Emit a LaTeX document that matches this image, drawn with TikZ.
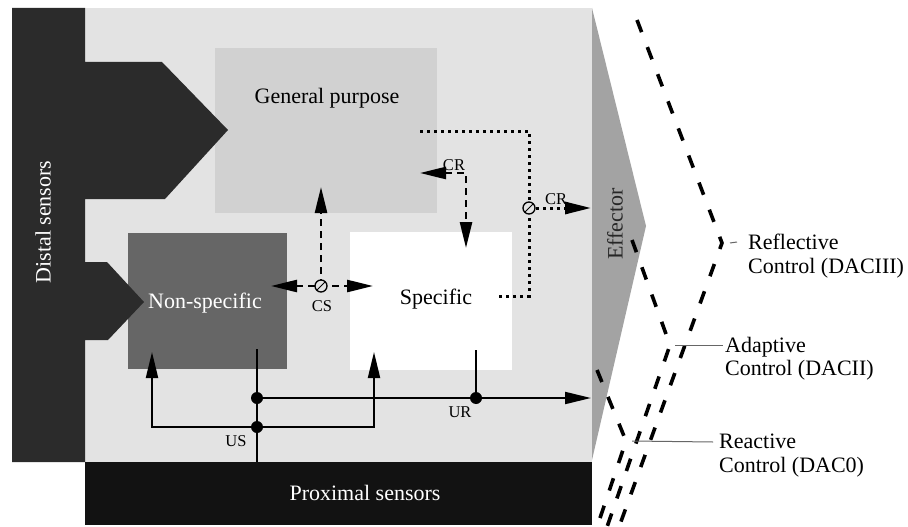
\documentclass[tikz,border=0pt]{standalone}
\usepackage{fontspec}
\setmainfont{Liberation Serif}
\usetikzlibrary{arrows.meta}
\definecolor{bglight}{gray}{0.89}
\definecolor{gpgray}{gray}{0.82}
\definecolor{nsgray}{gray}{0.40}
\definecolor{distal}{gray}{0.17}
\definecolor{proximal}{gray}{0.07}
\definecolor{effgray}{gray}{0.64}
\tikzset{
  big/.style={font=\fontsize{22}{23.5}\selectfont, inner sep=0pt},
  small/.style={font=\fontsize{16.5}{18}\selectfont, inner sep=0pt},
  tip/.style={-{Triangle[length=26pt,width=12pt]}},
  both/.style={{Triangle[length=26pt,width=12pt]}-{Triangle[length=26pt,width=12pt]}},
  sigline/.style={line width=2pt},
  dashline/.style={line width=2.5pt, dash pattern=on 7pt off 5pt},
  dotline/.style={line width=3pt, dash pattern=on 3pt off 4pt},
  junc/.style={circle, draw, line width=1.3pt, fill=bglight, minimum size=12pt, inner sep=0pt,
    path picture={\draw[line width=1pt] (path picture bounding box.south west) -- (path picture bounding box.north east);}},
  knot/.style={circle, fill=black, minimum size=12pt, inner sep=0pt},
  level/.style={line width=3.6pt, dash pattern=on 13pt off 16pt},
  tick/.style={line width=1pt, black!60},
}
\begin{document}
\begin{tikzpicture}[x=1pt, y=-1pt]
\useasboundingbox[fill=white] (0,0) rectangle (908,527);
% blocks
\fill[bglight] (85,8) rectangle (592,462);
\fill[effgray] (592,8) -- (646,226) -- (592,460) -- cycle;
\fill[gpgray] (215,48) rectangle (437,213);
\fill[nsgray] (128,233) rectangle (287,369);
\fill[white] (350,232) rectangle (512,370);
\fill[distal] (12,8) -- (85,8) -- (85,62) -- (162,62) -- (228,130) -- (165,199) -- (85,199)
  -- (85,262) -- (107,262) -- (144,302) -- (108,340) -- (85,340) -- (85,462) -- (12,462) -- cycle;
\fill[proximal] (85,462) rectangle (592,525);
\node[big, rotate=90, text=white] (dist) at (43,222) {Distal sensors};
\node[big, rotate=90, text=black!85] (eff) at (615,224) {Effector};
\node[big] (gp) at (327,98) {General purpose};
\node[big, text=white] (ns) at (205,303) {Non-specific};
\node[big] (sp) at (436,299) {Specific};
\node[big, text=white] (prox) at (365,493) {Proximal sensors};
% CS
\coordinate (csC) at (321,286);
\coordinate (csL) at (271,286);
\coordinate (csR) at (373,286);
\coordinate (csU) at (321,187);
\draw[dashline, both] (csL) -- (csR);
\draw[dashline, tip] (csC) -- (csU);
\node[junc] (cs) at (csC) {};
\node[small] at (322,306) {CS};
% CR
\coordinate (crL) at (420,173);
\coordinate (crD) at (466,248);
\draw[dashline, both] (crL) -| (crD);
\node[small] at (454,165) {CR};
\coordinate (gpOut) at (420,131);
\coordinate (spOut) at (498,296);
\coordinate (crC) at (529,208);
\coordinate (effCR) at (591,208);
\draw[dotline] (gpOut) -| (crC) |- (spOut);
\draw[dotline, tip] (crC) -- (effCR);
\node[junc] (cr) at (crC) {};
\node[small] at (556,199) {CR};
% US / UR
\coordinate (nsIn) at (257,349);
\coordinate (base) at (257,462);
\coordinate (spIn) at (476,350);
\coordinate (effIn) at (591,398);
\coordinate (nsTip) at (152,352);
\coordinate (spTip) at (374,352);
\draw[sigline] (nsIn) -- (base);
\node[knot] (kUp) at (257,398) {};
\node[knot] (kLo) at (257,427) {};
\draw[sigline, tip] (kUp) -- (effIn);
\draw[sigline, tip] (kLo) -| (nsTip);
\draw[sigline, tip] (kLo) -| (spTip);
\draw[sigline] (spIn) -- (476,398);
\node[knot] (kUR) at (476,398) {};
\node[small] at (236,441) {US};
\node[small] at (460,412) {UR};
% levels
\coordinate (vRef) at (722,243);
\coordinate (vAda) at (670,345);
\coordinate (vRea) at (626,441);
\draw[level] (637,20) -- (vRef) -- (619,527);
\draw[level] (632,240) -- (vAda) -- (607,527);
\draw[level] (597,370) -- (vRea) -- (597,527);
\node[big, anchor=north west, align=left] (refl) at (748,234) {Reflective\\Control (DACIII)};
\node[big, anchor=north west, align=left] (adap) at (725,337) {Adaptive\\Control (DACII)};
\node[big, anchor=north west, align=left] (reac) at (719,434) {Reactive\\Control (DAC0)};
\draw[tick] ([xshift=8pt]vRef) -- ([xshift=-11pt, yshift=-8pt]refl.north west);
\draw[tick] ([xshift=5pt]vAda) -- ([xshift=-2pt, yshift=-8pt]adap.north west);
\draw[tick] ([xshift=6pt]vRea) -- ([xshift=-6pt, yshift=-8pt]reac.north west);
\end{tikzpicture}
\end{document}
